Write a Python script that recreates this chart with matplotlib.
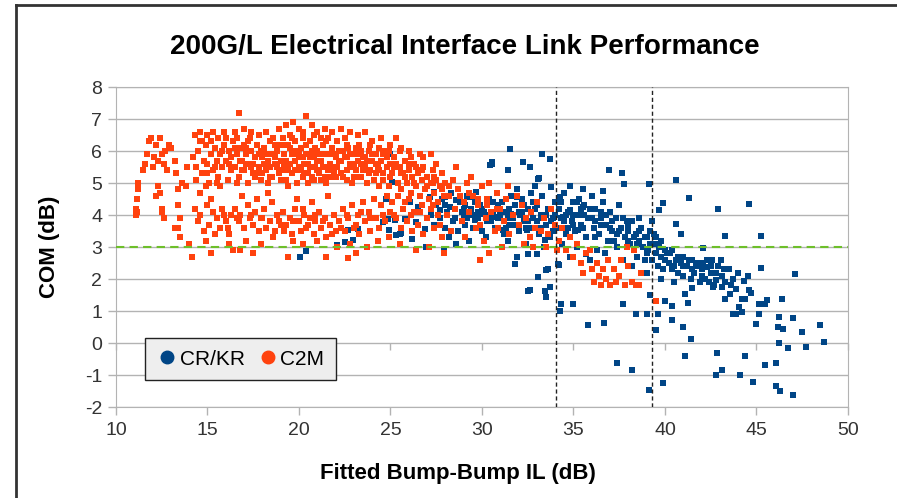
import numpy as np
import matplotlib
matplotlib.use('Agg')
import matplotlib.pyplot as plt
from matplotlib.lines import Line2D

plt.rcParams['font.family'] = ['Liberation Sans', 'DejaVu Sans']
plt.rcParams['axes.unicode_minus'] = False

# C2M points (x = fitted bump-bump IL, y = COM)
c2m = [
    # 11-14 dB
    (11.1, 4.0), (11.1, 4.2), (11.15, 4.5), (11.2, 4.8), (11.2, 5.0), (11.15, 4.1),
    (11.5, 5.4), (11.6, 5.6), (11.7, 5.9), (11.8, 6.3), (11.9, 6.4), (12.0, 5.5), (12.1, 5.8),
    (12.2, 6.2), (12.3, 5.7), (12.4, 6.4), (12.5, 5.9), (12.6, 5.6), (12.7, 6.0), (12.9, 6.2),
    (13.0, 6.1), (12.8, 5.4), (12.2, 4.6), (12.3, 4.9), (12.4, 4.7), (12.5, 4.1), (12.6, 3.9),
    (12.5, 4.2), (13.2, 5.7), (13.3, 5.3), (13.4, 4.8), (13.4, 4.3), (13.5, 3.9), (13.4, 3.6),
    (13.6, 5.0), (13.2, 3.6), (13.5, 3.3), (14.0, 3.1), (14.15, 2.7), (13.8, 4.9), (13.9, 5.5),
    # 14-16.5 dB
    (14.3, 6.5), (14.6, 6.6), (15.0, 6.5), (15.3, 6.6), (15.6, 6.4), (15.9, 6.6),
    (14.2, 5.8), (14.4, 5.5), (14.5, 6.0), (14.7, 5.3), (14.8, 5.7), (14.9, 6.2), (15.0, 5.6),
    (15.1, 5.0), (15.2, 5.9), (15.3, 5.4), (15.4, 6.1), (15.5, 5.7), (15.6, 5.2), (15.7, 5.9),
    (15.8, 5.5), (15.9, 6.2), (16.0, 5.7), (16.1, 5.1), (16.2, 6.0), (16.3, 5.4), (16.4, 6.3),
    (14.9, 4.9), (14.6, 4.7), (15.7, 4.9),
    (14.3, 4.2), (14.5, 3.8), (14.6, 4.0), (14.8, 3.5), (15.0, 4.3), (15.1, 3.7), (15.3, 4.1),
    (15.4, 3.4), (15.5, 3.9), (15.7, 3.6), (15.8, 4.2), (16.0, 3.8), (16.2, 3.4), (16.3, 4.0),
    (16.4, 2.9), (16.2, 3.1), (14.9, 3.2), (15.2, 2.8),
    # 16.5-19 dB
    (16.7, 7.2), (16.5, 6.6), (17.0, 6.7), (17.4, 6.6), (17.8, 6.5), (18.2, 6.6), (18.6, 6.4),
    (18.9, 6.7), (17.2, 6.3),
    (16.5, 5.5), (16.6, 5.9), (16.7, 5.2), (16.8, 6.1), (16.9, 5.7), (17.0, 5.4), (17.1, 5.9),
    (17.2, 5.0), (17.3, 5.6), (17.4, 6.0), (17.5, 5.3), (17.6, 5.8), (17.7, 6.2), (17.8, 5.5),
    (17.9, 5.1), (18.0, 5.8), (18.1, 6.1), (18.2, 5.4), (18.3, 5.7), (18.4, 6.3), (18.5, 5.2),
    (18.6, 5.9), (18.7, 5.6), (18.8, 6.0), (18.9, 5.3), (19.0, 5.7), (16.6, 5.0), (17.0, 6.2),
    (17.5, 5.6), (18.0, 5.3), (18.5, 5.9), (19.0, 6.2), (16.9, 5.4), (17.8, 5.9), (18.3, 5.0),
    (18.8, 5.5),
    (16.5, 4.2), (16.7, 3.8), (16.8, 4.0), (17.0, 3.6), (17.2, 4.3), (17.3, 3.9), (17.5, 3.7),
    (17.6, 4.1), (17.8, 3.5), (17.9, 3.9), (18.1, 4.2), (18.2, 3.6), (18.4, 3.8), (18.5, 4.4),
    (18.7, 3.5), (18.8, 4.0), (19.0, 3.7), (17.1, 3.2), (17.9, 3.1), (18.6, 3.3), (16.9, 4.6),
    (17.7, 4.5), (18.3, 4.7), (16.8, 2.9), (17.5, 2.8),
    # 19-22 dB
    (19.3, 6.8), (19.7, 6.9), (20.0, 6.7), (20.4, 7.1), (20.7, 6.8), (21.0, 6.6), (21.4, 6.7),
    (21.8, 6.6), (19.5, 6.5), (20.2, 6.4),
    (19.1, 5.4), (19.2, 5.9), (19.3, 5.1), (19.4, 6.2), (19.5, 5.6), (19.6, 5.3), (19.7, 6.0),
    (19.8, 5.7), (19.9, 5.0), (20.0, 5.5), (20.1, 6.1), (20.2, 5.8), (20.3, 5.3), (20.4, 5.9),
    (20.5, 5.6), (20.6, 6.3), (20.7, 5.2), (20.8, 5.8), (20.9, 5.5), (21.0, 6.0), (21.1, 5.3),
    (21.2, 5.7), (21.3, 6.2), (21.4, 5.5), (21.5, 5.0), (21.6, 5.9), (21.7, 5.6), (21.8, 6.1),
    (21.9, 5.3), (22.0, 5.8), (19.2, 5.6), (19.6, 5.9), (20.0, 6.0), (20.3, 5.6), (20.7, 6.0),
    (21.0, 5.4), (21.4, 5.9), (21.8, 5.5), (19.4, 4.9), (20.5, 5.0), (21.2, 5.1), (19.8, 6.3),
    (21.6, 6.4),
    (19.1, 4.1), (19.3, 3.7), (19.5, 3.9), (19.6, 3.4), (19.8, 4.2), (20.0, 3.8), (20.1, 3.5),
    (20.3, 4.0), (20.4, 3.6), (20.6, 3.9), (20.8, 3.4), (20.9, 3.8), (21.1, 4.1), (21.2, 3.6),
    (21.4, 3.9), (21.5, 3.3), (21.7, 3.7), (21.9, 4.0), (22.0, 3.5), (19.9, 4.5), (20.7, 4.4),
    (21.6, 4.6), (19.4, 2.7), (20.2, 3.1), (21.0, 3.2), (21.5, 2.7), (19.7, 3.2),
    # 22-25 dB
    (22.3, 6.7), (22.8, 6.6), (23.2, 6.5), (23.6, 6.6), (24.0, 6.3), (24.5, 6.4), (22.5, 6.4),
    (22.1, 5.5), (22.2, 6.0), (22.4, 5.2), (22.5, 5.8), (22.6, 5.4), (22.7, 6.1), (22.8, 5.6),
    (22.9, 5.0), (23.0, 5.9), (23.1, 5.4), (23.2, 5.7), (23.3, 6.2), (23.4, 5.2), (23.5, 5.8),
    (23.6, 5.5), (23.7, 5.0), (23.8, 6.0), (23.9, 5.4), (24.0, 5.7), (24.1, 5.1), (24.2, 5.9),
    (24.3, 5.5), (24.4, 4.9), (24.5, 5.7), (24.6, 5.3), (24.7, 6.0), (24.8, 5.5), (24.9, 4.9),
    (25.0, 5.6), (22.3, 5.3), (23.0, 5.2), (23.7, 5.7), (24.4, 6.1), (22.6, 5.8), (23.4, 5.6),
    (22.2, 3.8), (22.4, 4.2), (22.5, 3.5), (22.7, 3.9), (22.9, 4.3), (23.0, 3.6), (23.2, 4.0),
    (23.3, 3.4), (23.5, 4.4), (23.6, 3.8), (23.8, 4.1), (23.9, 3.5), (24.1, 4.5), (24.2, 3.9),
    (24.4, 3.6), (24.5, 4.3), (24.7, 3.8), (24.8, 4.6), (25.0, 4.1), (22.8, 3.1), (23.7, 3.0),
    (24.3, 3.2), (24.9, 3.3), (22.1, 3.0), (23.1, 2.8), (22.7, 2.67),
    # 25-28 dB
    (25.3, 6.4), (25.6, 6.1), (26.0, 6.0), (26.6, 5.9), (27.2, 5.9), (25.0, 6.2),
    (25.1, 5.3), (25.2, 5.8), (25.4, 5.0), (25.5, 5.5), (25.6, 4.8), (25.7, 5.3), (25.8, 5.7),
    (25.9, 5.0), (26.0, 5.4), (26.1, 4.7), (26.2, 5.2), (26.3, 5.6), (26.4, 4.9), (26.5, 5.3),
    (26.6, 4.6), (26.7, 5.1), (26.8, 5.5), (26.9, 4.8), (27.0, 5.2), (27.1, 4.5), (27.2, 5.0),
    (27.3, 5.4), (27.4, 4.7), (27.5, 5.1), (27.6, 4.4), (27.7, 4.9), (27.8, 5.3), (27.9, 4.6),
    (28.0, 5.0),
    (25.1, 4.4), (25.3, 3.9), (25.4, 4.6), (25.6, 3.6), (25.7, 4.2), (25.9, 3.8), (26.0, 4.5),
    (26.2, 3.5), (26.3, 4.1), (26.5, 3.7), (26.7, 4.3), (26.8, 3.4), (27.0, 3.9), (27.2, 4.2),
    (27.4, 3.6), (27.6, 4.0), (27.8, 3.3), (25.5, 3.1), (26.4, 2.9), (27.1, 3.0), (27.9, 2.8),
    # 28-33 dB
    (28.2, 4.6), (28.4, 5.1), (28.5, 4.2), (28.7, 4.8), (28.9, 3.8), (29.0, 4.4), (29.2, 5.0),
    (29.3, 4.1), (29.5, 4.6), (29.7, 3.6), (29.8, 4.3), (30.0, 4.9), (30.2, 3.9), (30.3, 4.5),
    (30.5, 4.1), (30.7, 3.5), (30.8, 4.7), (31.0, 4.2), (31.2, 3.8), (31.3, 4.5), (31.5, 3.4),
    (31.7, 4.0), (31.9, 4.6), (32.0, 3.7), (32.2, 4.3), (32.4, 3.9), (32.6, 3.3), (32.7, 4.1),
    (32.9, 3.6), (33.0, 4.4), (28.3, 3.5), (29.1, 3.3), (30.1, 3.2), (31.1, 3.0), (32.3, 3.1),
    (28.6, 5.5), (29.4, 5.2), (30.4, 5.0), (31.4, 4.9), (28.1, 4.0), (29.9, 3.7), (30.9, 3.6),
    (32.8, 3.0), (33.2, 3.5), (29.9, 2.6), (30.4, 2.8),
    # 33-40 dB
    (33.4, 3.9), (33.6, 3.4), (33.8, 4.2), (34.0, 3.7), (34.2, 3.2), (34.4, 3.6), (34.6, 2.9),
    (34.8, 3.3), (35.0, 2.7), (35.2, 3.1), (35.4, 2.5), (35.5, 2.2), (35.7, 2.8), (33.5, 3.0),
    (34.1, 2.9),
    (36.0, 2.3), (36.1, 1.9), (36.3, 2.5), (36.4, 2.1), (36.5, 1.8), (36.6, 2.3), (36.8, 2.0),
    (36.9, 2.6), (37.0, 1.8), (37.2, 2.3), (37.3, 1.9), (37.5, 2.1), (37.6, 2.6), (37.8, 1.8),
    (38.0, 2.4), (38.2, 1.9), (38.4, 1.8), (38.6, 1.8), (38.7, 2.2), (37.9, 3.0), (38.3, 2.9),
    (39.5, 1.3), (35.9, 2.9),
    # more of the packed upper band
    (14.7, 6.3), (15.2, 6.3), (15.5, 5.0), (16.0, 6.4), (16.3, 5.8), (16.6, 6.4), (17.1, 5.6),
    (17.3, 6.4), (17.7, 5.3), (18.1, 5.6), (18.4, 5.5), (18.7, 6.2), (19.1, 6.4), (19.3, 5.7),
    (19.5, 6.1), (19.9, 5.9), (20.1, 5.4), (20.2, 6.6), (20.5, 5.3), (20.6, 5.8), (20.8, 6.5),
    (20.9, 6.1), (21.1, 5.9), (21.3, 5.5), (21.5, 6.3), (21.7, 5.2), (21.9, 5.9), (22.1, 6.3),
    (22.3, 5.7), (22.6, 6.2), (22.9, 5.5), (23.1, 6.1), (23.3, 5.9), (23.5, 5.4), (23.9, 6.2),
    (24.2, 5.3), (24.6, 5.9), (24.9, 6.0), (25.2, 5.5), (25.5, 6.0), (25.8, 5.2), (26.1, 5.8),
    (26.4, 5.5), (26.8, 5.8), (27.3, 5.0), (27.5, 5.6),
    (14.4, 5.1), (14.6, 6.3), (15.0, 5.3), (15.4, 5.5), (15.8, 6.0), (16.2, 5.6), (16.5, 6.1),
    (16.8, 5.7), (17.1, 6.1), (17.4, 5.5), (17.6, 5.2), (17.9, 6.0), (18.2, 5.9), (18.4, 5.2),
    (18.7, 5.8), (19.0, 5.1), (19.2, 6.2), (19.4, 5.4), (19.6, 6.4), (19.8, 5.4), (20.0, 5.8),
    (20.2, 5.2), (20.4, 6.2), (20.6, 5.5), (20.8, 5.1), (21.0, 5.7), (21.2, 6.4), (21.4, 5.2),
    (21.6, 5.4), (21.8, 5.9), (22.0, 5.2), (22.2, 5.7), (22.4, 6.0), (22.6, 5.1), (22.8, 5.9),
    (23.0, 5.6), (23.2, 5.2), (23.4, 6.0), (23.6, 5.8), (23.8, 5.3), (24.0, 5.9), (24.2, 5.6),
    (24.4, 5.4), (24.6, 5.1), (24.8, 5.8), (25.0, 5.2), (25.3, 5.6), (25.6, 5.3), (26.0, 5.6),
    (26.3, 5.0), (26.7, 5.4), (27.0, 4.9), (27.4, 5.2), (27.8, 4.8), (28.2, 4.9), (28.8, 4.6),
    (29.3, 4.7), (29.8, 4.5), (30.3, 4.3), (30.8, 4.2),
    # more of the lower band
    (15.2, 4.5), (15.9, 4.0), (16.1, 3.6), (16.6, 3.9), (17.4, 4.0), (18.0, 3.9), (18.9, 3.8),
    (19.2, 3.5), (19.7, 3.8), (20.2, 4.2), (20.5, 3.7), (20.9, 4.0), (21.3, 3.8), (21.8, 3.4),
    (22.3, 3.6), (22.6, 4.0), (23.1, 3.7), (23.4, 4.1), (23.9, 3.9), (24.6, 4.0), (25.2, 4.0),
    (25.8, 4.4), (26.1, 4.0), (26.6, 4.1), (27.3, 4.3), (27.7, 3.7),
]

# CR/KR points
crkr = [
    # sparse low-loss end
    (20.05, 2.69), (20.4, 2.88), (22.06, 3.05), (22.5, 3.16), (22.97, 3.23), (23.24, 3.57),
    (22.7, 3.52), (24.97, 5.92), (25.06, 5.03), (25.25, 3.83), (24.9, 3.52), (25.5, 3.42),
    (26.15, 3.26), (26.07, 4.41), (26.5, 4.25), (26.9, 3.57), (26.95, 3.0), (27.16, 4.56),
    (27.4, 4.72), (27.6, 4.41), (27.7, 4.15), (24.75, 4.49), (24.6, 3.78), (24.85, 3.89),
    (25.3, 3.37), (25.6, 3.45), (25.8, 3.89), (26.4, 3.78),
    (27.98, 4.56), (28.25, 4.25), (28.6, 4.46), (28.9, 4.09), (29.07, 4.30), (29.34, 4.56),
    (29.6, 3.83), (29.7, 4.72), (29.98, 4.04), (30.26, 4.30), (30.53, 5.66), (30.44, 5.55),
    (30.8, 3.94), (31.16, 3.52), (31.44, 5.4), (31.53, 6.07), (31.6, 4.04), (31.9, 4.56),
    (32.17, 4.09), (32.26, 5.66), (32.6, 5.5), (32.9, 4.2), (33.08, 5.14), (33.26, 5.92),
    (33.44, 3.21), (33.7, 5.76), (33.8, 4.88), (32.44, 3.52), (31.9, 2.69), (32.5, 2.79),
    (33.08, 2.06), (33.5, 2.27), (33.7, 1.75), (34.17, 2.48), (34.26, 4.56), (34.44, 3.94),
    (34.8, 4.15), (35.17, 4.41), (35.5, 4.25), (35.26, 3.52), (34.8, 2.69), (35.7, 2.79),
    (32.6, 1.65), (33.5, 1.44), (31.8, 2.46), (32.5, 1.63), (33.6, 2.32), (33.44, 1.63),
    (34.2, 2.43), (34.3, 1.23), (33.0, 2.79), (30.53, 5.6), (33.13, 5.17),
    # main cloud 27-34 dB
    (27.2, 4.0), (27.4, 3.7), (27.5, 4.3), (27.7, 3.9), (27.8, 4.5), (28.0, 3.6), (28.1, 4.1),
    (28.3, 4.7), (28.4, 3.8), (28.5, 4.2), (28.7, 3.5), (28.8, 4.4), (29.0, 4.0), (29.1, 3.7),
    (29.2, 4.6), (29.4, 4.2), (29.5, 3.6), (29.6, 4.4), (29.8, 3.9), (29.9, 4.3), (30.0, 3.5),
    (30.1, 4.1), (30.3, 3.8), (30.4, 4.5), (30.6, 4.0), (30.7, 3.6), (30.9, 4.3), (28.2, 3.3),
    (29.3, 3.2), (30.2, 3.3), (27.9, 2.9), (28.6, 3.1),
    (31.0, 3.9), (31.1, 4.4), (31.2, 3.4), (31.3, 4.1), (31.5, 3.7), (31.6, 4.6), (31.7, 3.9),
    (31.8, 4.3), (32.0, 3.5), (32.1, 4.0), (32.2, 4.5), (32.3, 3.8), (32.5, 4.2), (32.6, 3.6),
    (32.7, 4.7), (32.8, 3.9), (33.0, 4.3), (33.1, 3.4), (33.2, 4.0), (33.3, 4.6), (33.5, 3.7),
    (33.6, 4.2), (33.7, 3.3), (33.9, 3.9), (34.0, 4.4), (31.4, 3.2), (32.4, 3.1), (33.4, 3.0),
    (31.9, 4.8), (32.9, 4.9),
    (28.0, 4.3), (28.5, 3.9), (29.0, 4.2), (29.5, 4.0), (30.0, 4.2), (30.5, 3.8), (31.0, 4.1),
    (31.5, 4.2), (32.0, 4.1), (32.5, 3.8), (33.0, 3.8), (33.5, 4.0), (34.0, 4.0), (33.9, 3.5),
    (33.2, 3.6), (32.3, 4.3), (31.3, 3.6), (30.6, 4.4),
    (29.2, 3.9), (29.8, 4.1), (30.4, 4.0), (30.9, 3.9), (31.4, 3.9), (31.8, 3.7), (32.4, 3.6),
    (32.8, 4.4), (33.3, 3.9), (33.8, 3.8),
    # 34-38 dB
    (34.1, 3.6), (34.2, 4.2), (34.3, 3.9), (34.5, 4.7), (34.6, 3.4), (34.7, 4.1), (34.9, 3.8),
    (35.0, 4.4), (35.1, 3.5), (35.3, 4.0), (35.4, 3.7), (35.6, 4.3), (35.7, 3.3), (35.8, 3.9),
    (36.0, 4.6), (36.1, 3.6), (36.2, 4.2), (36.4, 3.4), (36.5, 3.9), (36.6, 4.4), (36.8, 3.7),
    (36.9, 3.2), (37.0, 4.1), (37.1, 3.5), (37.3, 3.9), (37.4, 3.0), (37.5, 4.3), (37.6, 3.6),
    (37.8, 3.3), (37.9, 3.8), (34.4, 3.1), (35.2, 3.0), (36.3, 2.9), (35.9, 2.6), (36.7, 2.8),
    (34.8, 4.9), (35.5, 4.8), (36.6, 4.74), (36.96, 5.40), (37.65, 5.31), (37.76, 4.96),
    (34.5, 3.8), (35.0, 4.0), (35.5, 3.6), (36.0, 3.9), (36.5, 3.7), (37.0, 3.6), (37.5, 3.5),
    (37.2, 3.2), (36.2, 3.3), (35.4, 4.2), (34.7, 3.6),
    (34.3, 4.4), (34.6, 4.0), (35.0, 3.7), (35.3, 4.5), (35.6, 4.0), (35.9, 4.2), (36.2, 3.8),
    (36.5, 4.1), (36.8, 4.0), (37.1, 3.8), (37.4, 3.4), (37.7, 3.9),
    # 38-44 dB
    (38.0, 3.5), (38.1, 3.1), (38.2, 3.8), (38.3, 2.9), (38.4, 3.4), (38.5, 2.7), (38.6, 3.2),
    (38.7, 3.6), (38.8, 3.0), (38.9, 2.6), (39.0, 3.3), (39.1, 2.9), (39.2, 3.1), (39.3, 2.6),
    (39.4, 3.4), (39.5, 2.8), (39.6, 2.4), (39.7, 3.0), (39.8, 2.7), (39.9, 2.3), (40.0, 2.9),
    (40.2, 2.5), (40.3, 2.8), (40.4, 2.3), (40.6, 2.6), (40.7, 2.2), (40.9, 2.5), (41.0, 2.1),
    (41.2, 2.4), (41.4, 2.0), (38.2, 2.4), (39.0, 2.2), (39.8, 2.0), (40.5, 1.9), (37.7, 2.6),
    (38.6, 3.9), (39.3, 3.8),
    (38.0, 3.2), (38.5, 3.1), (39.0, 2.8), (39.5, 3.1), (40.0, 2.6), (40.5, 2.4), (41.0, 2.4),
    (41.5, 2.3), (42.0, 2.1), (42.5, 2.4),
    (38.0, 3.7), (38.3, 3.3), (38.6, 3.5), (38.9, 3.3), (39.2, 3.5), (39.5, 3.3), (39.8, 3.2),
    (40.1, 2.8), (40.4, 2.9), (40.7, 2.7), (41.0, 2.7), (41.3, 2.6), (41.7, 2.4), (42.1, 2.5),
    (42.4, 1.9), (42.8, 2.2), (43.2, 2.3), (43.6, 1.8),
    (41.5, 2.6), (41.6, 2.2), (41.8, 2.5), (41.9, 1.9), (42.0, 2.3), (42.2, 2.0), (42.3, 2.6),
    (42.5, 2.2), (42.7, 1.8), (42.9, 2.4), (43.1, 2.1), (43.3, 1.9), (43.5, 2.3), (43.7, 2.0),
    (43.9, 1.7), (44.0, 2.2),
    # scattered tail
    (39.13, 4.96), (40.6, 5.1), (39.87, 4.39), (39.65, 4.15), (41.33, 4.53), (42.9, 4.2),
    (44.6, 4.33), (40.6, 3.73), (40.9, 3.40), (43.3, 3.33), (45.25, 3.33), (42.1, 2.98),
    (45.25, 2.33), (47.1, 2.17), (42.55, 2.58), (43.05, 2.58), (42.3, 2.37), (44.3, 1.94),
    (44.55, 2.08), (42.8, 1.96), (42.6, 1.75), (43.1, 1.75), (43.3, 1.39), (43.55, 1.52),
    (44.2, 1.39), (44.4, 1.39), (44.6, 1.65), (44.7, 1.56), (44.05, 1.13), (43.9, 0.92),
    (43.7, 0.92), (44.2, 0.97), (45.15, 1.23), (45.6, 1.33), (45.45, 1.23), (46.4, 1.36),
    (45.15, 0.90), (44.97, 0.58), (46.25, 0.81), (46.98, 0.79), (46.2, 0.5), (46.45, 0.45),
    (47.5, 0.34), (48.5, 0.55), (48.7, 0.03), (46.25, 0.01), (46.7, -0.16), (47.7, -0.12),
    (44.4, -0.41), (42.85, -0.30), (41.1, -0.41), (41.4, 0.11), (41.0, 0.5), (45.45, -0.7),
    (46.07, -0.61), (43.1, -0.83), (42.8, -0.99), (44.1, -0.99), (44.8, -1.22), (46.07, -1.35),
    (46.3, -1.5), (47.0, -1.64), (39.9, -1.25), (39.13, -1.46), (37.4, -0.64), (38.2, -0.83),
    (35.8, 0.57), (36.65, 0.63), (39.5, 0.40), (40.36, 0.73), (35.0, 1.21), (37.7, 1.21),
    (38.4, 0.9), (39.0, 0.9), (39.63, 0.9), (40.0, 1.30), (40.4, 1.16), (41.26, 1.25),
    (41.1, 1.52), (39.2, 1.5), (41.5, 1.73), (34.26, 1.0),
]

limit_com = 3.0
il_marks = [34.05, 39.3]

c2m_x, c2m_y = np.array(c2m).T
crkr_x, crkr_y = np.array(crkr).T

blue = '#004586'
orange = '#ff420e'
grid_c = '#b3b3b3'

fig = plt.figure(figsize=(8.97, 4.98), dpi=100)
ax = fig.add_axes([0.1293, 0.1827, 0.816, 0.6426])

ax.scatter(crkr_x, crkr_y, s=20, marker='s', color=blue, linewidths=0, zorder=3)
ax.scatter(c2m_x, c2m_y, s=20, marker='s', color=orange, linewidths=0, zorder=3)

ax.axhline(limit_com, color='#6dbf2a', lw=1.5, ls=(0, (4, 2.5)), zorder=4)
for v in il_marks:
    ax.axvline(v, color='#222222', lw=1, ls=(0, (3, 2)), zorder=4)

ax.set_xlim(10, 50)
ax.set_ylim(-2, 8)
ax.set_xticks(range(10, 51, 5))
ax.set_yticks(range(-2, 9))
ax.yaxis.grid(True, color=grid_c, lw=1)
ax.set_axisbelow(True)
for s in ax.spines.values():
    s.set_color(grid_c)
ax.tick_params(axis='both', colors=grid_c, labelcolor='#333333', labelsize=14, length=6, width=1)
ax.tick_params(axis='x', pad=5)
ax.tick_params(axis='y', pad=4)

# axis crossing at COM = 0 gets its own tick marks
sec = ax.secondary_xaxis(0.2)
sec.set_xticks(range(10, 51, 5))
sec.tick_params(colors=grid_c, length=5, width=1, labelbottom=False, labeltop=False)
sec.spines['bottom'].set_visible(False)

ax.set_title('200G/L Electrical Interface Link Performance', fontsize=20, fontweight='bold',
             pad=24, x=0.477)
ax.set_xlabel('Fitted Bump-Bump IL (dB)', fontsize=16, fontweight='bold')
ax.xaxis.set_label_coords(0.467, -0.175)
ax.set_ylabel('COM (dB)', fontsize=16, fontweight='bold', labelpad=18)

handles = [Line2D([], [], ls='', marker='o', ms=9, color=blue, label='CR/KR'),
           Line2D([], [], ls='', marker='o', ms=9, color=orange, label='C2M')]
leg = ax.legend(handles=handles, ncol=2, loc='lower left', bbox_to_anchor=(0.04, 0.084),
                borderaxespad=0, fontsize=15, handletextpad=0.1, columnspacing=0.6,
                borderpad=0.55, handlelength=1.0, fancybox=False, framealpha=1)
leg.get_frame().set_facecolor('#eeeeee')
leg.get_frame().set_edgecolor('#222222')

# outer frame of the picture (top and left edges)
fig.add_artist(Line2D([16 / 897, 1], [1 - 5 / 498, 1 - 5 / 498], color='#333333', lw=2,
                      transform=fig.transFigure))
fig.add_artist(Line2D([16 / 897, 16 / 897], [0, 1 - 5 / 498], color='#333333', lw=2,
                      transform=fig.transFigure))

fig.savefig('out.png', dpi=100)
